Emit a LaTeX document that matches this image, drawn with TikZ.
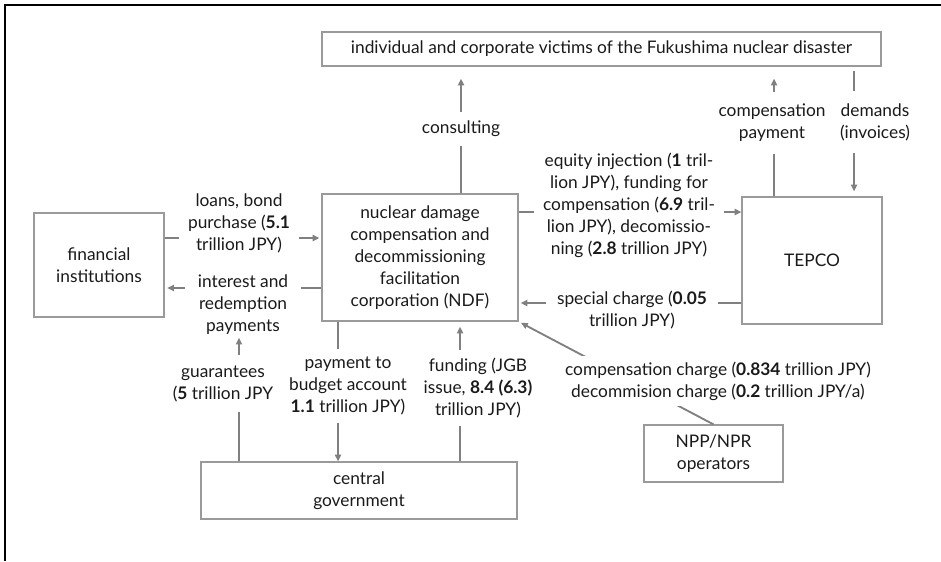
\documentclass[tikz,border=0pt]{standalone}
\usepackage{fontspec}
\setmainfont{Lato}
\usetikzlibrary{arrows.meta}

\definecolor{boxgray}{HTML}{9A9A9A}
\definecolor{linegray}{HTML}{808080}
\definecolor{textgray}{HTML}{1A1A1A}

\tikzset{
  box/.style={draw=boxgray, line width=0.9pt, inner sep=0pt, align=center, text=textgray},
  lbl/.style={fill=white, align=center, inner xsep=7pt, inner ysep=7pt, text=textgray},
  flow/.style={draw=linegray, line width=1.4pt, -{Triangle[length=5pt,width=4.5pt]}},
}

\begin{document}
\begin{tikzpicture}[x=0.75pt, y=-0.75pt, font=\fontsize{13}{16.5}\selectfont]
  \useasboundingbox (0,0) rectangle (941,561);
  \draw[line width=1.5pt] (941,5) -- (5,5) -- (5,561);

  \node[box, minimum width=419.25pt, minimum height=25.5pt] (vict) at (601.5,49)
    {individual and corporate victims of the Fukushima nuclear disaster};
  \node[box, minimum width=147pt, minimum height=95.25pt] (ndf) at (420,257.5)
    {nuclear damage\\compensation and\\decommissioning\\facilitation\\corporation (NDF)};
  \node[box, minimum width=97.5pt, minimum height=78pt] (fin) at (99,265)
    {financial\\institutions};
  \node[box, minimum width=105pt, minimum height=95.25pt] (tepco) at (812,260.5) {TEPCO};
  \node[box, minimum width=237pt, minimum height=42.75pt] (gov) at (359,490.5)
    {central\\government};
  \node[box, minimum width=104.25pt, minimum height=42.75pt] (npp) at (713.5,453.5)
    {NPP/NPR\\operators};

  \draw[flow, shorten >=9pt] (ndf.north -| 461,0) -- (vict.south -| 461,0);
  \node[lbl] (consl) at (461,129) {consulting};

  \draw[flow, shorten >=1.5pt] (fin.east |- 0,238) -- (ndf.west |- 0,238);
  \node[lbl] (loansl) at (239,223) {loans, bond\\purchase (\textbf{5.1}\\trillion JPY)};

  \draw[flow, shorten >=2pt] (ndf.west |- 0,288) -- (fin.east |- 0,288);
  \node[lbl, inner xsep=10pt, inner ysep=2pt] (intl) at (243,305)
    {interest and\\redemption\\payments};

  \draw[flow] (gov.north -| 239,0) -- (intl.south -| 239,0);
  \node[lbl, inner ysep=8pt] (guarl) at (223,383.5) {guarantees\\(\textbf{5} trillion JPY};

  \draw[flow] (ndf.south -| 338,0) -- (gov.north -| 338,0);
  \node[lbl, inner xsep=3pt, inner ysep=6pt] (payl) at (348,386)
    {payment to\\budget account\\\textbf{1.1} trillion JPY)};

  \draw[flow, shorten >=3.75pt] (gov.north -| 460,0) -- (ndf.south -| 460,0);
  \node[lbl, inner xsep=3pt, inner ysep=6pt] (fundl) at (478,388)
    {funding (JGB\\issue, \textbf{8.4 (6.3)}\\trillion JPY)};

  \draw[flow] (ndf.east |- 0,212) -- (tepco.west |- 0,212);
  \node[lbl, inner xsep=7pt] (eqtl) at (629,205)
    {equity injection (\textbf{1} tril-\\lion JPY), funding for\\compensation (\textbf{6.9} tril-\\lion JPY), decomissio-\\ning (\textbf{2.8} trillion JPY)};

  \draw[flow, shorten >=1.5pt] (tepco.west |- 0,303) -- (ndf.east |- 0,303);
  \node[lbl, inner xsep=8pt, inner ysep=2pt] (specl) at (632,310)
    {special charge (\textbf{0.05}\\trillion JPY)};

  \draw[flow, shorten >=2pt] (npp.north) -- (ndf.south east);
  \node[lbl, inner xsep=2pt, inner ysep=4pt] (chargel) at (718,381)
    {compensation charge (\textbf{0.834} trillion JPY)\\decommision charge (\textbf{0.2} trillion JPY/a)};

  \draw[flow, shorten >=9pt] (tepco.north -| 774,0) -- (vict.south -| 774,0);
  \node[lbl, inner xsep=4pt, inner ysep=9pt] (cpayl) at (772,123) {compensation\\payment};

  \draw[flow, shorten <=3pt, shorten >=3.75pt] (vict.south -| 854,0) -- (tepco.north -| 854,0);
  \node[lbl, inner xsep=2pt, inner ysep=9pt] (demandl) at (875,122) {demands\\(invoices)};
\end{tikzpicture}
\end{document}
